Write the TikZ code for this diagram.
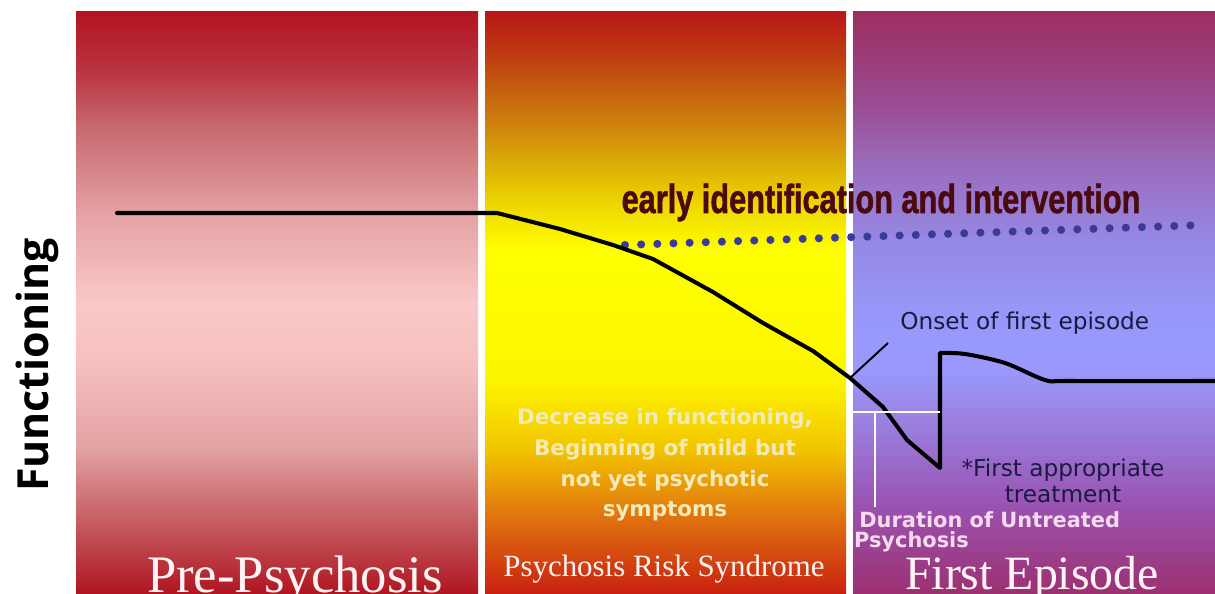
\documentclass[tikz,border=0pt]{standalone}
\usepackage{xcolor}
\usepackage{fontspec}
\setmainfont{Liberation Serif}
\newfontfamily\dejavu{DejaVu Sans}
\newfontfamily\opensans{Open Sans}
\newfontfamily\heavysans[FakeBold=1.6]{Liberation Sans Bold}
\usepackage{tikz}
\usetikzlibrary{positioning, calc}
\definecolor{earlyred}{HTML}{4B0A10}
\definecolor{onsetnavy}{HTML}{1A1A40}
\definecolor{dotblue}{HTML}{3A3A9A}
\definecolor{decyellow}{HTML}{F2EAB8}
\definecolor{duppink}{HTML}{F8DAF0}
\definecolor{phasewhite}{HTML}{FFF4F4}
% pre-psychosis stops
\definecolor{preA}{HTML}{B01520}\definecolor{preB}{HTML}{C45A60}\definecolor{preC}{HTML}{E2A2A2}
\definecolor{preD}{HTML}{F6C0C0}\definecolor{preE}{HTML}{F9C8C8}\definecolor{preF}{HTML}{E5A3A5}
\definecolor{preG}{HTML}{C86A70}\definecolor{preH}{HTML}{B83440}\definecolor{preI}{HTML}{B31520}
% risk syndrome stops
\definecolor{riskA}{HTML}{C82010}\definecolor{riskB}{HTML}{E07010}\definecolor{riskC}{HTML}{F2C400}
\definecolor{riskD}{HTML}{FCF500}\definecolor{riskE}{HTML}{FFFF00}\definecolor{riskF}{HTML}{F0DC00}
\definecolor{riskG}{HTML}{DAA808}\definecolor{riskH}{HTML}{CA7410}\definecolor{riskI}{HTML}{C04010}
\definecolor{riskJ}{HTML}{B81818}
% first episode stops
\definecolor{epiA}{HTML}{9C3070}\definecolor{epiB}{HTML}{9A55B5}\definecolor{epiC}{HTML}{9A7CDC}
\definecolor{epiD}{HTML}{9A98FC}\definecolor{epiE}{HTML}{9898FA}\definecolor{epiF}{HTML}{9588E4}
\definecolor{epiG}{HTML}{9A6EC0}\definecolor{epiH}{HTML}{9A4A90}\definecolor{epiI}{HTML}{9C2F60}

\pgfdeclareverticalshading{preshade}{100bp}{color(0bp)=(preA); color(25bp)=(preA);
  color(31bp)=(preB); color(37.5bp)=(preC); color(45bp)=(preD); color(50bp)=(preE);
  color(57.5bp)=(preF); color(65bp)=(preG); color(70bp)=(preH); color(75bp)=(preI);
  color(100bp)=(preI)}
\pgfdeclareverticalshading{riskshade}{100bp}{color(0bp)=(riskA); color(25bp)=(riskA);
  color(31.4bp)=(riskB); color(37.4bp)=(riskC); color(43.4bp)=(riskD); color(54.5bp)=(riskE);
  color(58bp)=(riskF); color(62.3bp)=(riskG); color(66.6bp)=(riskH); color(70.9bp)=(riskI);
  color(75bp)=(riskJ); color(100bp)=(riskJ)}
\pgfdeclareverticalshading{episodeshade}{100bp}{color(0bp)=(epiA); color(25bp)=(epiA);
  color(33.1bp)=(epiB); color(39.1bp)=(epiC); color(44.3bp)=(epiD); color(48.6bp)=(epiE);
  color(55.4bp)=(epiF); color(61.4bp)=(epiG); color(67.4bp)=(epiH); color(75bp)=(epiI);
  color(100bp)=(epiI)}

\begin{document}
\begin{tikzpicture}[x=0.02cm, y=-0.02cm,
  curve/.style={line width=2.3pt, black, line join=round, line cap=round},
  thinline/.style={line width=1.1pt, black},
  dupline/.style={line width=1.7pt, white},
  dotline/.style={line width=4.6pt, dotblue, line cap=round, dash pattern=on 0pt off 9.2pt},
  phase/.style={inner sep=0pt, anchor=base, text=phasewhite},
  note/.style={inner sep=0pt, font=\dejavu\fontsize{13.2}{15.8}\selectfont, text=onsetnavy}
]
  \useasboundingbox (0,0) rectangle (1215,594);
  \clip (0,0) rectangle (1215,594);

  % Phases
  \shade[shading=preshade]     (76,12)  rectangle (478,594);
  \shade[shading=riskshade]    (485,12) rectangle (846,594);
  \shade[shading=episodeshade] (853,12) rectangle (1215,594);

  % Axis label
  \node[rotate=90, inner sep=0pt, font=\opensans\bfseries\fontsize{24.4}{28}\selectfont] (func) at (37,365) {Functioning};

  % Intervention
  \node[inner sep=0pt, anchor=base, text=earlyred, font=\heavysans\fontsize{23}{26}\selectfont] (early) at (881,213)
    {\scalebox{0.76}[1]{early identification and intervention}};
  \coordinate (dotstart) at (625,245);
  \coordinate (dotend)   at (1203,225);
  \draw[dotline] (dotstart) -- (dotend);

  % Functioning curve
  \draw[curve] (117,213) -- (497,213) -- (560,229) -- (613,245) -- (653,259) -- (713,292)
    -- (763,323) -- (813,351) -- (850,378) -- (883,407) -- (907,440) -- (940,468)
    -- plot[smooth, tension=.5] coordinates {(940,353) (965,354) (1005,363) (1045,380) (1070,381) (1215,381)};

  % Onset and DUP
  \coordinate (onset)    at (850,378);
  \coordinate (onsettip) at (888,343);
  \draw[thinline] (onset) -- (onsettip);
  \coordinate (dupleft)  at (853,412);
  \coordinate (dupright) at (940,412);
  \coordinate (duptop)   at (875,412);
  \coordinate (dupfoot)  at (875,507);
  \draw[dupline] (dupleft) -- (dupright);
  \draw[dupline] (duptop) -- (dupfoot);

  % Labels
  \node[note, anchor=base west] (onsetlbl) at (900,330) {Onset of first episode};
  \node[note, anchor=base, align=center, font=\dejavu\fontsize{13.2}{14.8}\selectfont] (treat) at (1063,503)
    {*First appropriate\\treatment};
  \node[inner sep=0pt, anchor=base west, align=left, text=duppink,
        font=\dejavu\bfseries\fontsize{11.9}{12}\selectfont] (dup) at (859,548)
    {Duration of Untreated\\[-0.5pt]\hspace*{-3pt}Psychosis};
  \node[inner sep=0pt, anchor=base, align=center, text=decyellow,
        font=\dejavu\bfseries\fontsize{12.2}{17.6}\selectfont] (decrease) at (665,517)
    {Decrease in functioning,\\Beginning of mild but\\not yet psychotic\\symptoms};

  % Phase names
  \node[phase, font=\fontsize{30}{34}\selectfont] (pre) at (295,593) {Pre-Psychosis};
  \node[phase, font=\fontsize{17.6}{20}\selectfont] (risk) at (664,577) {Psychosis Risk Syndrome};
  \node[phase, font=\fontsize{27.2}{31}\selectfont] (first) at (1032,590) {First Episode};
\end{tikzpicture}
\end{document}
